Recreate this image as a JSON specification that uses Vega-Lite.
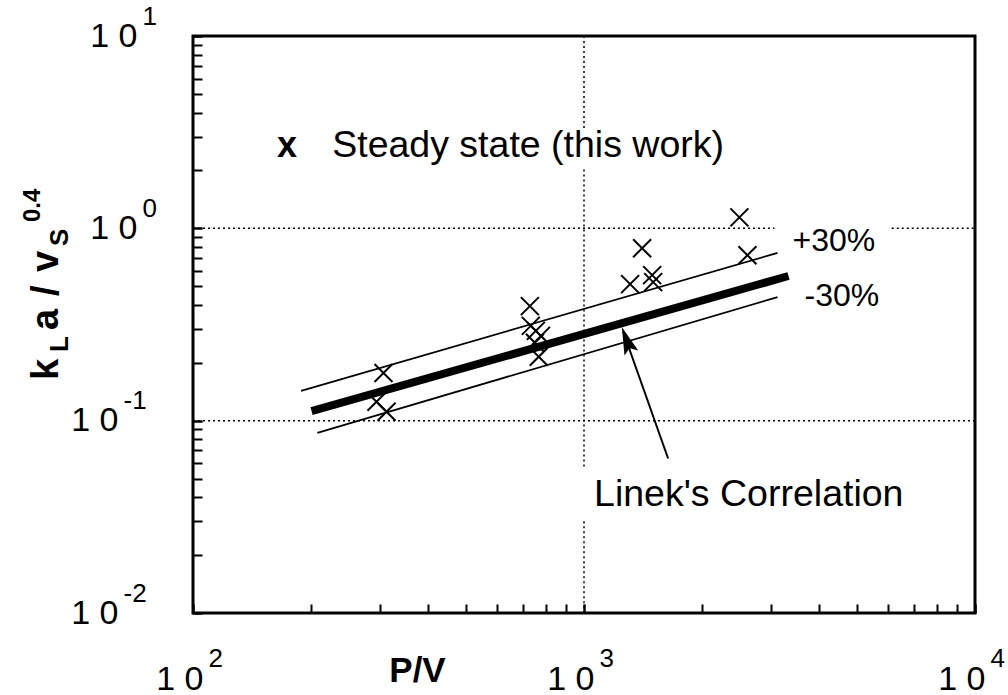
{
  "$schema": "https://vega.github.io/schema/vega-lite/v6.json",
  "width": 782,
  "height": 577,
  "autosize": {"type": "none"},
  "padding": {"left": 193, "top": 36, "right": 33, "bottom": 82},
  "background": "white",
  "config": {
    "font": "Liberation Sans",
    "view": {"stroke": "black", "strokeWidth": 3},
    "axis": {"domain": false, "grid": false, "tickColor": "black", "tickWidth": 2, "labelColor": "black", "titleColor": "black"}
  },
  "resolve": {"axis": {"x": "independent", "y": "independent"}},
  "datasets": {
    "grid": [
      {"x": 100, "x2": 3069, "y": 1, "y2": 1},
      {"x": 6124, "x2": 10000, "y": 1, "y2": 1},
      {"x": 100, "x2": 10000, "y": 0.1, "y2": 0.1},
      {"x": 1000, "x2": 1000, "y": 10, "y2": 3.26},
      {"x": 1000, "x2": 1000, "y": 2.02, "y2": 0.0578},
      {"x": 1000, "x2": 1000, "y": 0.030, "y2": 0.01}
    ],
    "bands": [
      {"series": "+30%", "x": 189, "y": 0.143},
      {"series": "+30%", "x": 3126, "y": 0.745},
      {"series": "-30%", "x": 208, "y": 0.0865},
      {"series": "-30%", "x": 3126, "y": 0.439}
    ],
    "linek": [
      {"x": 201, "y": 0.112},
      {"x": 3334, "y": 0.565}
    ],
    "points": [
      {"x": 307, "y": 0.177},
      {"x": 294.6, "y": 0.1254},
      {"x": 312.6, "y": 0.1113},
      {"x": 727, "y": 0.394},
      {"x": 731, "y": 0.311},
      {"x": 753, "y": 0.293},
      {"x": 776, "y": 0.276},
      {"x": 749, "y": 0.254},
      {"x": 766, "y": 0.215},
      {"x": 1408, "y": 0.788},
      {"x": 1312, "y": 0.513},
      {"x": 1494, "y": 0.571},
      {"x": 1503, "y": 0.525},
      {"x": 2497, "y": 1.14},
      {"x": 2618, "y": 0.725}
    ],
    "arrow": [
      {"x": 1260, "x2": 1641, "y": 0.29, "y2": 0.0636}
    ],
    "arrowhead": [
      {"x": 1294, "y": 0.2525}
    ],
    "legendmark": [{"x": 174, "y": 2.36, "label": "x"}],
    "bigtext": [
      {"x": 227, "y": 2.36, "label": "Steady state (this work)"},
      {"x": 1061, "y": 0.0358, "label": "Linek's Correlation"}
    ],
    "pcttext": [
      {"x": 3414, "y": 0.760, "label": "+30%"},
      {"x": 3664, "y": 0.394, "label": "-30%"}
    ],
    "ytitle_main": [
      {"x": 45.2, "y": 0.1627, "label": "k"},
      {"x": 45.2, "y": 0.296, "label": "a"},
      {"x": 45.2, "y": 0.4447, "label": "/"},
      {"x": 45.2, "y": 0.5929, "label": "v"}
    ],
    "ytitle_sub": [
      {"x": 47.9, "y": 0.2275, "label": "L"},
      {"x": 47.9, "y": 0.8092, "label": "S"}
    ],
    "ytitle_sup": [
      {"x": 40.6, "y": 1.079, "label": "0.4"}
    ]
  },
  "encoding": {
    "x": {"field": "x", "type": "quantitative", "scale": {"type": "log", "domain": [100, 10000], "nice": false}, "axis": null},
    "y": {"field": "y", "type": "quantitative", "scale": {"type": "log", "domain": [0.01, 10], "nice": false}, "axis": null}
  },
  "layer": [
    {
      "data": {"name": "grid"},
      "mark": {"type": "rule", "color": "black", "strokeWidth": 1.5, "strokeDash": [2, 3]},
      "encoding": {
        "x": {
          "field": "x", "type": "quantitative",
          "scale": {"type": "log", "domain": [100, 10000], "nice": false},
          "axis": {
            "orient": "bottom",
            "values": [100, 200, 300, 400, 500, 600, 700, 800, 900, 1000, 2000, 3000, 4000, 5000, 6000, 7000, 8000, 9000, 10000],
            "labelExpr": "datum.value == 100 || datum.value == 1000 || datum.value == 10000 ? '1 0' : ''",
            "tickSize": -9,
            "labelPadding": 58,
            "labelFontSize": 34,
            "labelAlign": "right",
            "labelOffset": 10,
            "labelFlush": false,
            "labelOverlap": false,
            "labelBound": false,
            "title": "P/V",
            "titleFontSize": 35,
            "titleFontWeight": "bold",
            "titleX": 224,
            "titleY": 68,
            "titleAlign": "center",
            "titleBaseline": "alphabetic"
          }
        },
        "y": {
          "field": "y", "type": "quantitative",
          "scale": {"type": "log", "domain": [0.01, 10], "nice": false},
          "axis": {
            "orient": "left",
            "values": [0.01, 0.02, 0.03, 0.04, 0.05, 0.06, 0.07, 0.08, 0.09, 0.1, 0.2, 0.3, 0.4, 0.5, 0.6, 0.7, 0.8, 0.9, 1, 2, 3, 4, 5, 6, 7, 8, 9, 10],
            "labelExpr": "datum.value == 0.01 || datum.value == 0.1 || datum.value == 1 || datum.value == 10 ? '1 0' : ''",
            "tickSize": -9,
            "labelPadding": {"condition": {"test": "datum.value < 0.5", "value": 84}, "value": 65},
            "labelFontSize": 34,
            "labelAlign": "right",
            "labelFlush": false,
            "labelOverlap": false,
            "labelBound": false,
            "title": null
          }
        },
        "x2": {"field": "x2"},
        "y2": {"field": "y2"}
      }
    },
    {
      "data": {"name": "bands"},
      "mark": {"type": "line", "color": "black", "strokeWidth": 1.8},
      "encoding": {
        "x": {
          "field": "x", "type": "quantitative",
          "scale": {"type": "log", "domain": [100, 10000], "nice": false},
          "axis": {
            "orient": "bottom",
            "values": [100, 1000, 10000],
            "labelExpr": "datum.value == 100 ? '2' : datum.value == 1000 ? '3' : '4'",
            "tickSize": -9,
            "labelPadding": 41,
            "labelFontSize": 26,
            "labelAlign": "left",
            "labelOffset": 15,
            "labelFlush": false,
            "labelOverlap": false,
            "labelBound": false,
            "title": null
          }
        },
        "y": {
          "field": "y", "type": "quantitative",
          "scale": {"type": "log", "domain": [0.01, 10], "nice": false},
          "axis": {
            "orient": "left",
            "values": [0.01, 0.1, 1, 10],
            "labelExpr": "datum.value == 0.01 ? '-2' : datum.value == 0.1 ? '-1' : datum.value == 1 ? '0' : '1'",
            "tickSize": -9,
            "labelPadding": {"condition": {"test": "datum.value < 0.5", "value": 79}, "value": 60},
            "labelFontSize": 26,
            "labelAlign": "left",
            "labelOffset": -20,
            "labelFlush": false,
            "labelOverlap": false,
            "labelBound": false,
            "title": null
          }
        },
        "detail": {"field": "series"}
      }
    },
    {
      "data": {"name": "linek"},
      "mark": {"type": "line", "color": "black", "strokeWidth": 8, "strokeCap": "butt"},
      "encoding": {}
    },
    {
      "data": {"name": "points"},
      "mark": {"type": "point", "shape": "M-1,-1L1,1M-1,1L1,-1", "filled": false, "stroke": "black", "strokeWidth": 2, "size": 324, "opacity": 1},
      "encoding": {}
    },
    {
      "data": {"name": "arrow"},
      "mark": {"type": "rule", "color": "black", "strokeWidth": 2},
      "encoding": {"x2": {"field": "x2"}, "y2": {"field": "y2"}}
    },
    {
      "data": {"name": "arrowhead"},
      "mark": {"type": "point", "shape": "M0,-1L0.42,0.6L0,0.3L-0.42,0.6Z", "filled": true, "color": "black", "size": 1200, "angle": 340, "opacity": 1},
      "encoding": {}
    },
    {
      "data": {"name": "legendmark"},
      "mark": {"type": "text", "fontSize": 36, "fontWeight": "bold", "align": "center", "baseline": "alphabetic", "color": "black"},
      "encoding": {"text": {"field": "label"}}
    },
    {
      "data": {"name": "bigtext"},
      "mark": {"type": "text", "fontSize": 37.5, "align": "left", "baseline": "alphabetic", "color": "black"},
      "encoding": {"text": {"field": "label"}}
    },
    {
      "data": {"name": "pcttext"},
      "mark": {"type": "text", "fontSize": 32, "align": "left", "baseline": "alphabetic", "color": "black"},
      "encoding": {"text": {"field": "label"}}
    },
    {
      "data": {"name": "ytitle_main"},
      "mark": {"type": "text", "fontSize": 38, "fontWeight": "bold", "angle": 270, "align": "left", "baseline": "alphabetic", "color": "black"},
      "encoding": {"text": {"field": "label"}}
    },
    {
      "data": {"name": "ytitle_sub"},
      "mark": {"type": "text", "fontSize": 26, "fontWeight": "bold", "angle": 270, "align": "left", "baseline": "alphabetic", "color": "black"},
      "encoding": {"text": {"field": "label"}}
    },
    {
      "data": {"name": "ytitle_sup"},
      "mark": {"type": "text", "fontSize": 24, "fontWeight": "bold", "angle": 270, "align": "left", "baseline": "alphabetic", "color": "black"},
      "encoding": {"text": {"field": "label"}}
    }
  ]
}
